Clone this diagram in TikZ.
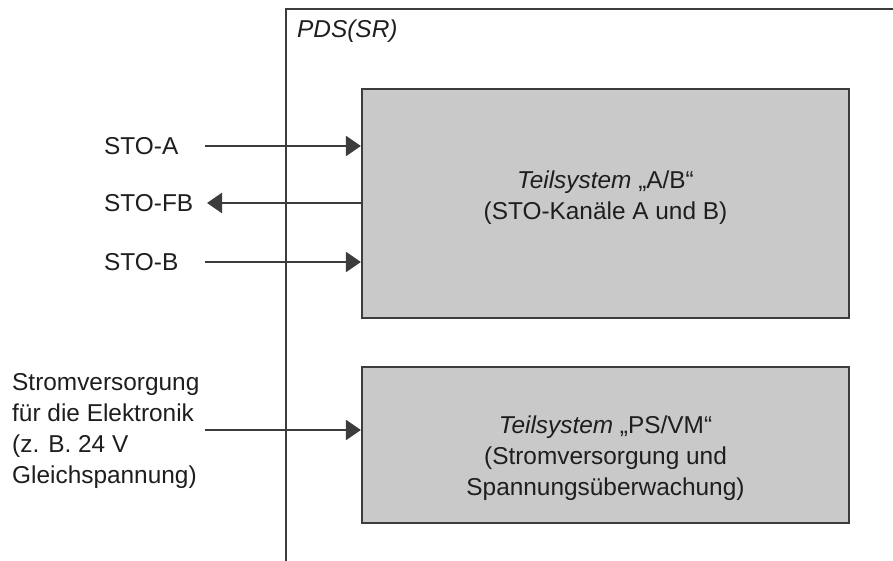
\documentclass[tikz,border=0pt]{standalone}
\usepackage{fontspec}
\setmainfont{Liberation Sans}
\usetikzlibrary{arrows.meta}
\definecolor{inkgray}{HTML}{3C3C3C}
\definecolor{boxfill}{HTML}{C9C9C9}
\definecolor{txt}{HTML}{1E1E1E}
\tikzset{
  lbl/.style={font=\fontsize{24.4}{30.7}\selectfont, text=txt, inner sep=0pt},
  subsys/.style={draw=inkgray, line width=2.2pt, fill=boxfill, inner sep=0pt},
  boxtext/.style={font=\fontsize{24.4}{30.7}\selectfont, text=txt, align=center, inner sep=0pt},
  sig/.style={draw=inkgray, line width=2.4pt, -{Triangle[length=15pt,width=20pt]}},
  frame/.style={draw=inkgray, line width=1.8pt}
}
\begin{document}
\begin{tikzpicture}[x=1pt,y=-1pt]
\useasboundingbox (0,0) rectangle (893,561);
\fill[white] (0,0) rectangle (893,561);

% PDS(SR) enclosure, open to the right and bottom
\draw[frame] (286,561) -- (286,9) -- (893,9);
\node[lbl, anchor=west, font=\fontsize{24.4}{30.7}\selectfont\itshape] (pds) at (297,31) {PDS(SR)};

% subsystems
\node[subsys, minimum width=487pt, minimum height=229pt] (ab) at (605.5,203.5) {};
\node[boxtext] (abtxt) at (605.5,197.5) {\textit{Teilsystem} „A/B“\\(STO-Kanäle A und B)};

\node[subsys, minimum width=487pt, minimum height=156pt] (ps) at (605.5,445) {};
\node[boxtext] (pstxt) at (605.5,458) {\textit{Teilsystem} „PS/VM“\\(Stromversorgung und\\Spannungsüberwachung)};

% signal labels
\node[lbl, anchor=west] (stoa) at (104,146) {STO-A};
\node[lbl, anchor=west] (stofb) at (104,203) {STO-FB};
\node[lbl, anchor=west] (stob) at (104,262) {STO-B};
\node[lbl, anchor=west, align=left] (pwr) at (12,431) {Stromversorgung\\für die Elektronik\\(z. B. 24 V\\Gleichspannung)};

% connector ends outside the enclosure
\coordinate (stoa-out) at (205,146);
\coordinate (stofb-out) at (207,203);
\coordinate (stob-out) at (205,262);
\coordinate (pwr-out) at (205,430);

% signals
\draw[sig] (stoa-out) -- (ab.west |- stoa-out);
\draw[sig] (ab.west |- stofb-out) -- (stofb-out);
\draw[sig] (stob-out) -- (ab.west |- stob-out);
\draw[sig] (pwr-out) -- (ps.west |- pwr-out);
\end{tikzpicture}
\end{document}
